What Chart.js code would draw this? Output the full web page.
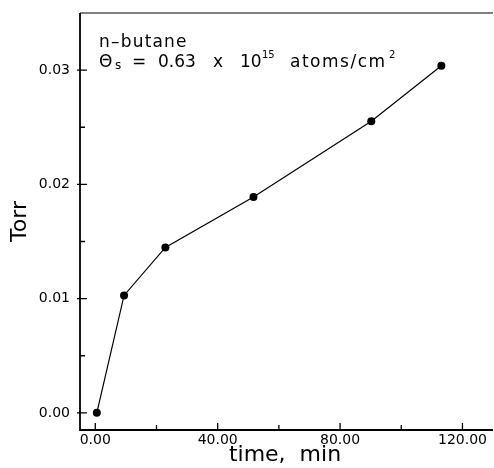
<!DOCTYPE html>
<html>
<head>
<meta charset="utf-8">
<script src="https://cdn.jsdelivr.net/npm/chart.js@4.4.0/dist/chart.umd.min.js"></script>
<style>
  html, body { margin: 0; padding: 0; background: #fff; }
  #wrap { width: 494px; height: 468px; }
</style>
</head>
<body>
<div id="wrap"><canvas id="chart"></canvas></div>
<script>
// data
const timeMin = [0.5, 9.4, 22.9, 51.7, 90.2, 113.1];
const torr = [0.0, 0.01028, 0.01448, 0.0189, 0.02552, 0.03039];

const xMajorTicks = [0, 40, 80, 120];
const xMinorTicks = [20, 60, 100];
const yMajorTicks = [0, 0.01, 0.02, 0.03];
const yMinorTicks = [0.005, 0.015, 0.025];

const FONT = "'DejaVu Sans', sans-serif";

// draws axes lines, inward ticks and the label text
const framePlugin = {
    id: 'frame',
    afterDraw(chart) {
        const ctx = chart.ctx;
        const a = chart.chartArea;
        const xs = chart.scales.x;
        const ys = chart.scales.y;
        const edge = chart.width - 1;
        ctx.save();
        ctx.strokeStyle = '#000';
        ctx.lineWidth = 1.2;
        ctx.beginPath();
        ctx.moveTo(a.left, a.top);
        ctx.lineTo(edge, a.top);
        ctx.stroke();
        ctx.lineWidth = 1.8;
        ctx.beginPath();
        ctx.moveTo(a.left, a.top);
        ctx.lineTo(a.left, a.bottom);
        ctx.lineTo(edge, a.bottom);
        ctx.stroke();

        ctx.lineWidth = 1.3;
        ctx.beginPath();
        xMajorTicks.forEach(v => {
            const px = xs.getPixelForValue(v);
            ctx.moveTo(px, a.bottom);
            ctx.lineTo(px, a.bottom - 7);
        });
        xMinorTicks.forEach(v => {
            const px = xs.getPixelForValue(v);
            ctx.moveTo(px, a.bottom);
            ctx.lineTo(px, a.bottom - 5);
        });
        yMajorTicks.forEach(v => {
            const py = ys.getPixelForValue(v);
            ctx.moveTo(a.left - 3, py);
            ctx.lineTo(a.left + 7, py);
        });
        yMinorTicks.forEach(v => {
            const py = ys.getPixelForValue(v);
            ctx.moveTo(a.left, py);
            ctx.lineTo(a.left + 5, py);
        });
        ctx.stroke();

        // annotation, pieces placed from the left of the plot box
        const L = a.left;
        ctx.fillStyle = '#000';
        ctx.textBaseline = 'alphabetic';
        ctx.letterSpacing = '1.2px';
        ctx.font = '17px ' + FONT;
        ctx.fillText('n\u2013butane', L + 19, 47);
        const y = 67;
        ctx.letterSpacing = '0px';
        ctx.fillText('\u0398', L + 19, y);
        ctx.font = '12px ' + FONT;
        ctx.fillText('s', L + 35, y + 2);
        ctx.font = '17px ' + FONT;
        ctx.fillText('=', L + 52, y);
        ctx.fillText('0.63', L + 78, y);
        ctx.fillText('x', L + 133, y);
        ctx.fillText('10', L + 160, y);
        ctx.letterSpacing = '1.5px';
        ctx.fillText('atoms/cm', L + 210, y);
        ctx.letterSpacing = '0px';
        ctx.font = '10px ' + FONT;
        ctx.fillText('15', L + 182, y - 9);
        ctx.fillText('2', L + 309, y - 9);
        ctx.restore();
    }
};

// reset letter spacing before the library draws its own text
const spacingPlugin = {
    id: 'spacing',
    beforeDraw(chart) { chart.ctx.letterSpacing = '0px'; }
};

new Chart(document.getElementById('chart'), {
    type: 'scatter',
    data: {
        datasets: [{
            data: timeMin.map((t, i) => ({ x: t, y: torr[i] })),
            showLine: true,
            borderColor: '#000',
            borderWidth: 1.2,
            backgroundColor: '#000',
            pointRadius: 4,
            pointBorderWidth: 0,
            tension: 0
        }]
    },
    options: {
        responsive: true,
        maintainAspectRatio: false,
        animation: false,
        layout: { padding: { top: 13, right: 1, left: 0, bottom: 0 } },
        plugins: {
            legend: { display: false },
            tooltip: { enabled: false }
        },
        scales: {
            x: {
                type: 'linear',
                min: -5,
                max: 129,
                afterBuildTicks: s => { s.ticks = xMajorTicks.map(v => ({ value: v })); },
                afterFit: s => { s.height = 38; s.paddingLeft = 0; s.paddingRight = 0; },
                border: { display: false },
                grid: { display: false, drawTicks: false },
                ticks: {
                    padding: 2,
                    color: '#000',
                    font: { family: FONT, size: 14 },
                    callback: v => v.toFixed(2)
                },
                title: {
                    display: true,
                    text: 'time,  min',
                    color: '#000',
                    font: { family: FONT, size: 22 },
                    padding: { top: 1, bottom: 0 }
                }
            },
            y: {
                min: -0.0015,
                max: 0.035,
                afterBuildTicks: s => { s.ticks = yMajorTicks.map(v => ({ value: v })); },
                afterFit: s => { s.width = 80; s.paddingTop = 0; s.paddingBottom = 0; },
                border: { display: false },
                grid: { display: false, drawTicks: false },
                ticks: {
                    padding: 10,
                    color: '#000',
                    font: { family: FONT, size: 14 },
                    callback: v => v.toFixed(2)
                },
                title: {
                    display: true,
                    text: 'Torr',
                    color: '#000',
                    font: { family: FONT, size: 22 },
                    padding: { top: 7, bottom: 0 }
                }
            }
        }
    },
    plugins: [spacingPlugin, framePlugin]
});
</script>
</body>
</html>
